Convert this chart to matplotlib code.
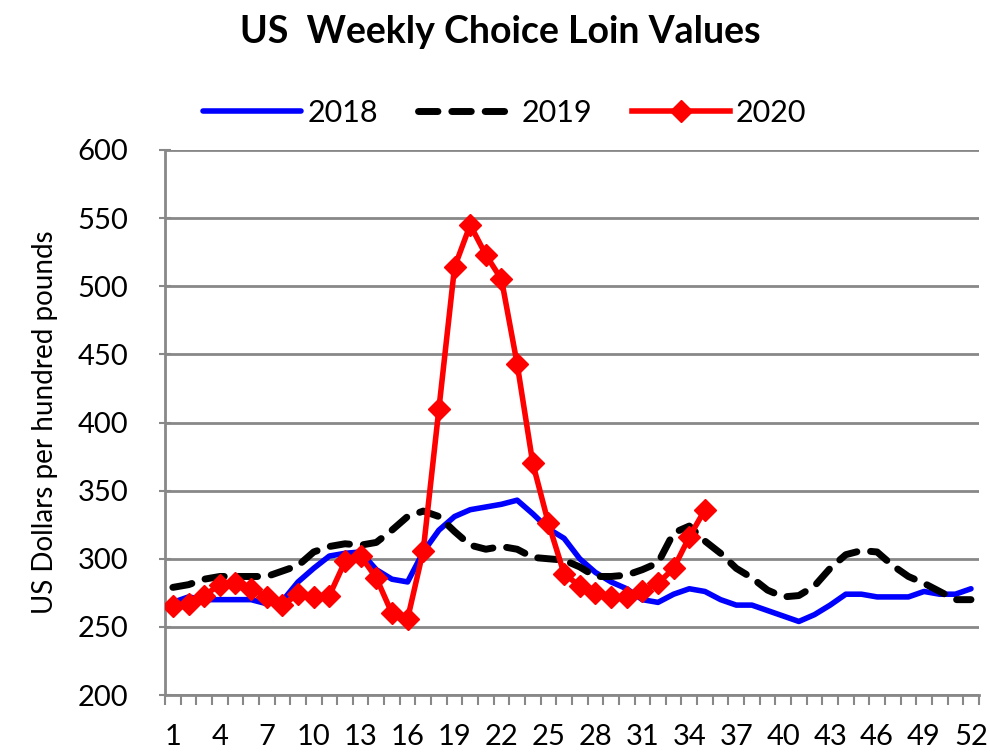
import numpy as np
import matplotlib.pyplot as plt

plt.rcParams['font.family'] = ['Lato', 'DejaVu Sans']

weeks = np.arange(1, 53)

values_2018 = [268, 272, 270, 270, 270, 270, 267, 269, 283, 293, 302, 304, 305,
               292, 285, 283, 305, 321, 331, 336, 338, 340, 343, 333, 322, 315,
               300, 290, 283, 278, 270, 268, 274, 278, 276, 270, 266, 266, 262,
               258, 254, 259, 266, 274, 274, 272, 272, 272, 276, 274, 274, 278]

values_2019 = [279, 281, 285, 287, 287, 287, 287, 291, 295, 305, 309, 311, 310,
               312, 321, 331, 335, 331, 320, 310, 307, 309, 307, 301, 300, 299,
               294, 287, 287, 288, 292, 297, 319, 324, 313, 304, 293, 286, 277,
               272, 273, 280, 293, 303, 306, 305, 295, 287, 282, 276, 270, 270]

values_2020 = [265, 267, 273, 281, 282, 278, 272, 266, 274, 272, 273, 298, 302,
               286, 260, 256, 306, 410, 514, 545, 523, 505, 443, 370, 326, 289,
               280, 275, 272, 272, 276, 282, 293, 316, 336]

xtick_labels = list(range(1, 53, 3))

fig = plt.figure(figsize=(9.9, 7.54), dpi=100)
ax = fig.add_axes([0.1667, 0.0782, 0.822, 0.7229])

ax.plot(weeks, values_2018, color='#0000ff', linewidth=4.0, label='2018',
        solid_capstyle='round', zorder=3)
ax.plot(weeks, values_2019, color='black', linewidth=5.0, linestyle=(0, (2.8, 2.0)),
        dash_capstyle='round', label='2019', zorder=3)
ax.plot(np.arange(1, len(values_2020) + 1), values_2020, color='#ff0000', linewidth=4.0,
        marker='D', markersize=11.5, label='2020', zorder=4)

ax.set_xlim(0.5, 52.5)
ax.set_ylim(200, 600)
ax.set_yticks(range(200, 601, 50))
ax.grid(axis='y', color='#888888', linewidth=2)
ax.set_axisbelow(True)

ax.set_xticks(xtick_labels)
ax.set_xticklabels([str(v) for v in xtick_labels])
ax.set_xticks(np.arange(0.5, 53, 1), minor=True)
ax.tick_params(axis='x', which='major', length=0, pad=21, labelsize=21)
ax.tick_params(axis='x', which='minor', length=7, width=1.5, color='#888888', direction='out')
ax.tick_params(axis='y', length=9, width=1.5, color='#888888', direction='inout', labelsize=21, pad=22)

for side in ['top', 'right']:
    ax.spines[side].set_visible(False)
for side in ['left', 'bottom']:
    ax.spines[side].set_color('#888888')
    ax.spines[side].set_linewidth(2)

ax.set_ylabel('US Dollars per hundred pounds', fontsize=20, labelpad=14)

fig.suptitle('US  Weekly Choice Loin Values', fontsize=27, fontweight='bold', x=0.505, y=0.98)

fig.legend(loc='center', bbox_to_anchor=(0.51, 0.85), ncol=3, frameon=False,
           fontsize=22, handlelength=3.2, handletextpad=0.2, columnspacing=1.3)

fig.savefig('out.png', dpi=100)
